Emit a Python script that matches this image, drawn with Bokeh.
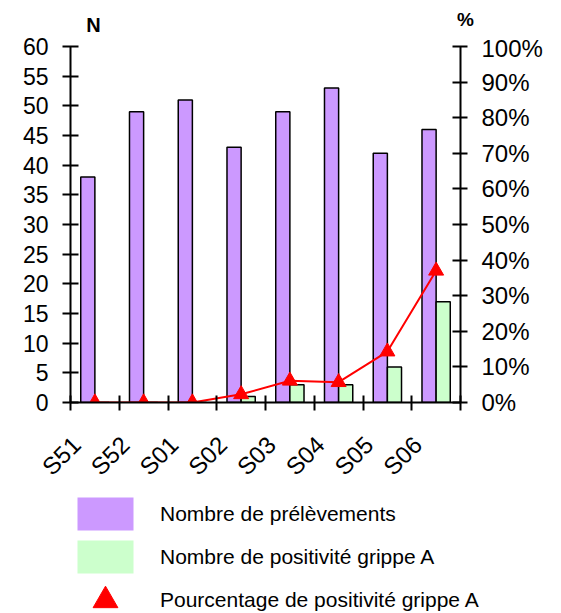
import math
from bokeh.plotting import figure
from bokeh.layouts import column, row
from bokeh.models import (Range1d, LinearAxis, FixedTicker, PrintfTickFormatter,
                          Legend, LegendItem, Label, ColumnDataSource)
from bokeh.embed import file_html
from bokeh.resources import INLINE

# ---- data ----
weeks = ["S51", "S52", "S01", "S02", "S03", "S04", "S05", "S06"]
prelevements = [38, 49, 51, 43, 49, 53, 42, 46]
positifs_a = [0, 0, 0, 1, 3, 3, 6, 17]
pourcentage_a = [0.0, 0.0, 0.0, 2.3, 6.1, 5.7, 14.3, 37.0]
n_ticks = [0, 5, 10, 15, 20, 25, 30, 35, 40, 45, 50, 55, 60]
pct_ticks = [0, 10, 20, 30, 40, 50, 60, 70, 80, 90, 100]
legend_labels = ["Nombre de prélèvements", "Nombre de positivité grippe A",
                 "Pourcentage de positivité grippe A"]

PURPLE = "#CC99FF"
GREEN = "#CCFFCC"
RED = "#FF0000"
FONT = "Liberation Sans"
W = 561
LABEL_SHIFT = 0.38   # rotated week labels sit a little left of the category centre

n = len(weeks)
xc = [i + 0.5 for i in range(n)]
bounds = [i for i in range(n + 1)]
bar_w = 0.29

src = ColumnDataSource(dict(
    x_p=[x - bar_w / 2 for x in xc],
    x_g=[x + bar_w / 2 for x in xc],
    xc=xc,
    prel=prelevements,
    pos=positifs_a,
    pct=pourcentage_a,
))


def bare(fig):
    fig.outline_line_color = None
    fig.xgrid.visible = False
    fig.ygrid.visible = False
    return fig


# ---------- top strip with the axis titles ----------
TOP_H = 34
top = bare(figure(width=W, height=TOP_H, output_backend="svg", toolbar_location=None,
                  x_range=Range1d(0, W), y_range=Range1d(0, TOP_H),
                  x_axis_location=None, y_axis_location=None,
                  min_border_left=0, min_border_right=0, min_border_top=0,
                  min_border_bottom=0))
top.add_layout(Label(x=93, y=10, text="N", text_align="center",
                     text_baseline="middle", text_font=FONT, text_font_style="bold",
                     text_font_size="20px", text_color="black"))
top.add_layout(Label(x=465, y=15, text="%", text_align="center",
                     text_baseline="middle", text_font=FONT, text_font_style="bold",
                     text_font_size="19px", text_color="black"))

# ---------- main chart ----------
p = bare(figure(width=W, height=458, output_backend="svg", toolbar_location=None,
                x_range=Range1d(0, n), y_range=Range1d(0, 60),
                x_axis_location=None,
                min_border_left=70, min_border_right=101, min_border_top=12,
                min_border_bottom=90))
p.extra_y_ranges = {"pct": Range1d(0, 100)}
p.extra_x_ranges = {"lab": Range1d(LABEL_SHIFT, n + LABEL_SHIFT)}

p.vbar(x="x_p", top="prel", width=bar_w, bottom=0, source=src,
       fill_color=PURPLE, line_color="black", line_width=1.5)
p.vbar(x="x_g", top="pos", width=bar_w, bottom=0, source=src,
       fill_color=GREEN, line_color="black", line_width=1.5)
p.line(x="xc", y="pct", source=src, y_range_name="pct", line_color=RED, line_width=2)
p.scatter(x="xc", y="pct", source=src, y_range_name="pct", marker="triangle",
          size=15, fill_color=RED, line_color=RED)

# x axis: week labels at the centres, tick marks at the category boundaries
xaxis = LinearAxis(x_range_name="lab",
                   ticker=FixedTicker(ticks=xc,
                                      minor_ticks=[b + LABEL_SHIFT for b in bounds]),
                   major_label_overrides={x: w for x, w in zip(xc, weeks)},
                   major_label_orientation=math.pi / 4,
                   axis_line_color="black", axis_line_width=2,
                   major_tick_line_color=None, major_tick_in=0, major_tick_out=0,
                   minor_tick_line_color="black", minor_tick_line_width=2,
                   minor_tick_in=7, minor_tick_out=8,
                   major_label_standoff=30,
                   major_label_text_font=FONT, major_label_text_font_size="24px",
                   major_label_text_color="black")
p.add_layout(xaxis, "below")

ya = p.yaxis[0]
ya.ticker = FixedTicker(ticks=n_ticks)
ya.major_tick_in = 8
ya.major_tick_out = 8
ya.minor_tick_line_color = None
ya.axis_line_width = 2
ya.major_tick_line_width = 2
ya.major_label_standoff = 14
ya.major_label_text_font = FONT
ya.major_label_text_font_size = "23px"
ya.major_label_text_color = "black"

ra = LinearAxis(y_range_name="pct", ticker=FixedTicker(ticks=pct_ticks),
                formatter=PrintfTickFormatter(format="%d%%"),
                major_tick_in=8, major_tick_out=7, minor_tick_line_color=None,
                axis_line_width=2, major_tick_line_width=2, major_label_standoff=14,
                major_label_text_font=FONT, major_label_text_font_size="24px",
                major_label_text_color="black")
p.add_layout(ra, "right")

# ---------- legend strip (renderers share the data but lie outside its view) ----------
lf = bare(figure(width=W, height=121, output_backend="svg", toolbar_location=None,
                 x_range=Range1d(100, 101), y_range=Range1d(1000, 1001),
                 x_axis_location=None, y_axis_location=None,
                 min_border_left=0, min_border_right=0, min_border_top=0,
                 min_border_bottom=0))
lg_p = lf.vbar(x="x_p", top="prel", width=bar_w, source=src,
               fill_color=PURPLE, line_color=None)
lg_g = lf.vbar(x="x_g", top="pos", width=bar_w, source=src,
               fill_color=GREEN, line_color=None)
lg_t = lf.scatter(x="xc", y="pct", source=src, marker="triangle", size=15,
                  fill_color=RED, line_color=RED)

common = dict(glyph_width=70, padding=0, margin=0, label_standoff=20,
              label_text_font=FONT, label_text_font_size="21px",
              label_text_color="black", border_line_color=None,
              background_fill_alpha=0)
legend_bars = Legend(items=[
    LegendItem(label=legend_labels[0], renderers=[lg_p]),
    LegendItem(label=legend_labels[1], renderers=[lg_g]),
], location=(70, 36), glyph_height=41, spacing=2, **common)
legend_tri = Legend(items=[
    LegendItem(label=legend_labels[2], renderers=[lg_t]),
], location=(70, -18), glyph_height=62, spacing=0, **common)
lf.add_layout(legend_bars, "center")
lf.add_layout(legend_tri, "center")

layout = column(row(top), p, row(lf), spacing=0)
open("out.html", "w").write(file_html(layout, INLINE))
